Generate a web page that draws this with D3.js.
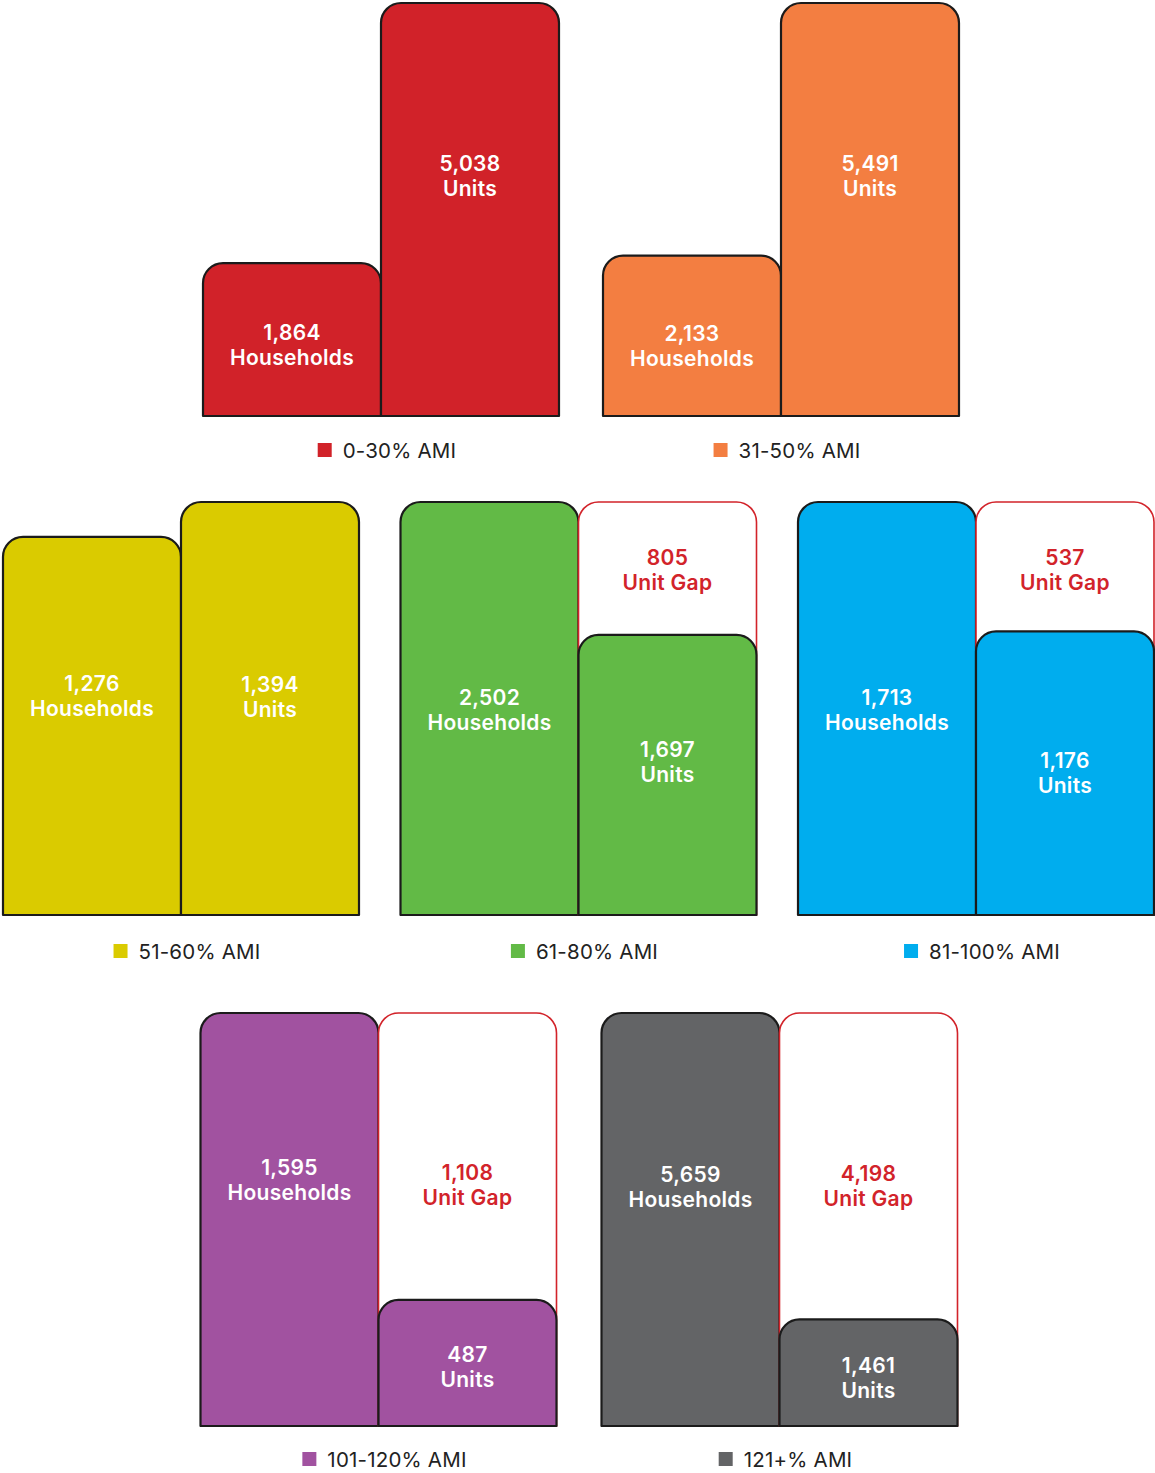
<!DOCTYPE html>
<html>
<head>
<meta charset="utf-8">
<script src="https://cdn.jsdelivr.net/npm/d3@7"></script>
<style>
  html, body { margin: 0; padding: 0; background: #fff; }
  svg { display: block; }
</style>
</head>
<body>
<svg id="chart" width="1155" height="1473"></svg>
<script>
// Income bands (AMI) and the counts for each
const categories = ["0-30% AMI", "31-50% AMI", "51-60% AMI", "61-80% AMI", "81-100% AMI", "101-120% AMI", "121+% AMI"];
const households = [1864, 2133, 1276, 2502, 1713, 1595, 5659];
const units      = [5038, 5491, 1394, 1697, 1176, 487, 1461];
const barNames   = ["Households", "Units"];
const gapName    = "Unit Gap";
const bandColors = ["#d12229", "#f37e41", "#dacb00", "#62ba46", "#00adee", "#a152a0", "#636466"];

// ---- layout ----
const rows = [[0, 1], [2, 3, 4], [5, 6]];
const rowTop = [3, 502, 1013];
const rowCenter = [581, 578.5, 579];
const rowStep = [400, 397.5, 401];
const legendOffset = [34, 36, 33];
const plotH = 413;
const panelW = 356;
const radius = 20;
const gapRed = "#d2232a";
const fontFamily = "Inter, 'Open Sans', sans-serif";
// vertical nudges (px) of label blocks from bar centre: [households, gap, units]
const labelNudge = [
  [5, 0, -34], [10, 0, -34], [-30, 0, -12], [1, 2, -13],
  [1, 3, 0], [-40, 29, 4], [-33, 20, 5]
];

const fmt = d3.format(",");
const svg = d3.select("#chart");

// rectangle with rounded top corners
function topRounded(x, y, w, h, r) {
  const rr = Math.min(r, w / 2, h);
  const p = d3.path();
  p.moveTo(x, y + h);
  p.lineTo(x, y + rr);
  p.arcTo(x, y, x + rr, y, rr);
  p.lineTo(x + w - rr, y);
  p.arcTo(x + w, y, x + w, y + rr, rr);
  p.lineTo(x + w, y + h);
  p.closePath();
  return p.toString();
}

function labelBlock(g, cx, mid, value, name, color) {
  const t = g.append("text")
    .attr("text-anchor", "middle")
    .attr("font-family", fontFamily)
    .attr("font-weight", 600)
    .attr("font-size", 21)
    .attr("letter-spacing", 0.3)
    .attr("fill", color);
  t.append("tspan").attr("x", cx).attr("y", mid - 12.5).attr("dominant-baseline", "central").text(fmt(value));
  t.append("tspan").attr("x", cx).attr("y", mid + 12.5).attr("dominant-baseline", "central").text(name);
}

rows.forEach((row, ri) => {
  const step = rowStep[ri];
  const pad = (step - panelW) / step;
  const rowScale = d3.scaleBand()
    .domain(row)
    .range([rowCenter[ri] - (row.length * step) / 2, rowCenter[ri] + (row.length * step) / 2])
    .paddingInner(pad)
    .paddingOuter(pad / 2);

  row.forEach(i => {
    const x0 = rowScale(i) + (rowScale.bandwidth() - panelW) / 2;
    const top = rowTop[ri];
    const bottom = top + plotH;
    const hh = households[i], un = units[i];
    const y = d3.scaleLinear().domain([0, Math.max(hh, un)]).range([bottom, top]);
    const x = d3.scaleBand().domain(barNames).range([x0, x0 + panelW]).padding(0);
    const bw = x.bandwidth();
    const color = bandColors[i];
    const g = svg.append("g");
    const nudge = labelNudge[i];

    // households bar
    g.append("path")
      .attr("d", topRounded(x("Households"), y(hh), bw, bottom - y(hh), radius))
      .attr("fill", color).attr("stroke", "#1b1b1b").attr("stroke-width", 2.2)
      .attr("stroke-linejoin", "round");

    // unit gap outline when households exceed units
    const gap = hh - un;
    if (gap > 0) {
      g.append("path")
        .attr("d", topRounded(x("Units"), y(hh), bw, bottom - y(hh), radius))
        .attr("fill", "#fff").attr("stroke", gapRed).attr("stroke-width", 1.6);
    }

    // units bar
    g.append("path")
      .attr("d", topRounded(x("Units"), y(un), bw, bottom - y(un), radius))
      .attr("fill", color).attr("stroke", "#1b1b1b").attr("stroke-width", 2.2)
      .attr("stroke-linejoin", "round");

    // labels
    labelBlock(g, x("Households") + bw / 2, (y(hh) + bottom) / 2 + nudge[0], hh, "Households", "#fff");
    labelBlock(g, x("Units") + bw / 2, (y(un) + bottom) / 2 + nudge[2], un, "Units", "#fff");
    if (gap > 0) {
      labelBlock(g, x("Units") + bw / 2, (y(hh) + y(un)) / 2 + nudge[1], gap, gapName, gapRed);
    }

    // legend
    const lg = svg.append("g");
    const sw = 14;
    lg.append("rect").attr("x", 0).attr("y", -sw / 2).attr("width", sw).attr("height", sw).attr("fill", color);
    const lt = lg.append("text")
      .attr("x", sw + 11).attr("y", 0)
      .attr("dominant-baseline", "central")
      .attr("font-family", fontFamily)
      .attr("font-size", 20.5)
      .attr("letter-spacing", 0.2)
      .attr("fill", "#222")
      .text(categories[i]);
    const lw = sw + 11 + lt.node().getComputedTextLength();
    lg.attr("transform", `translate(${x0 + panelW / 2 - lw / 2 + 6},${bottom + legendOffset[ri]})`);
  });
});
</script>
</body>
</html>
